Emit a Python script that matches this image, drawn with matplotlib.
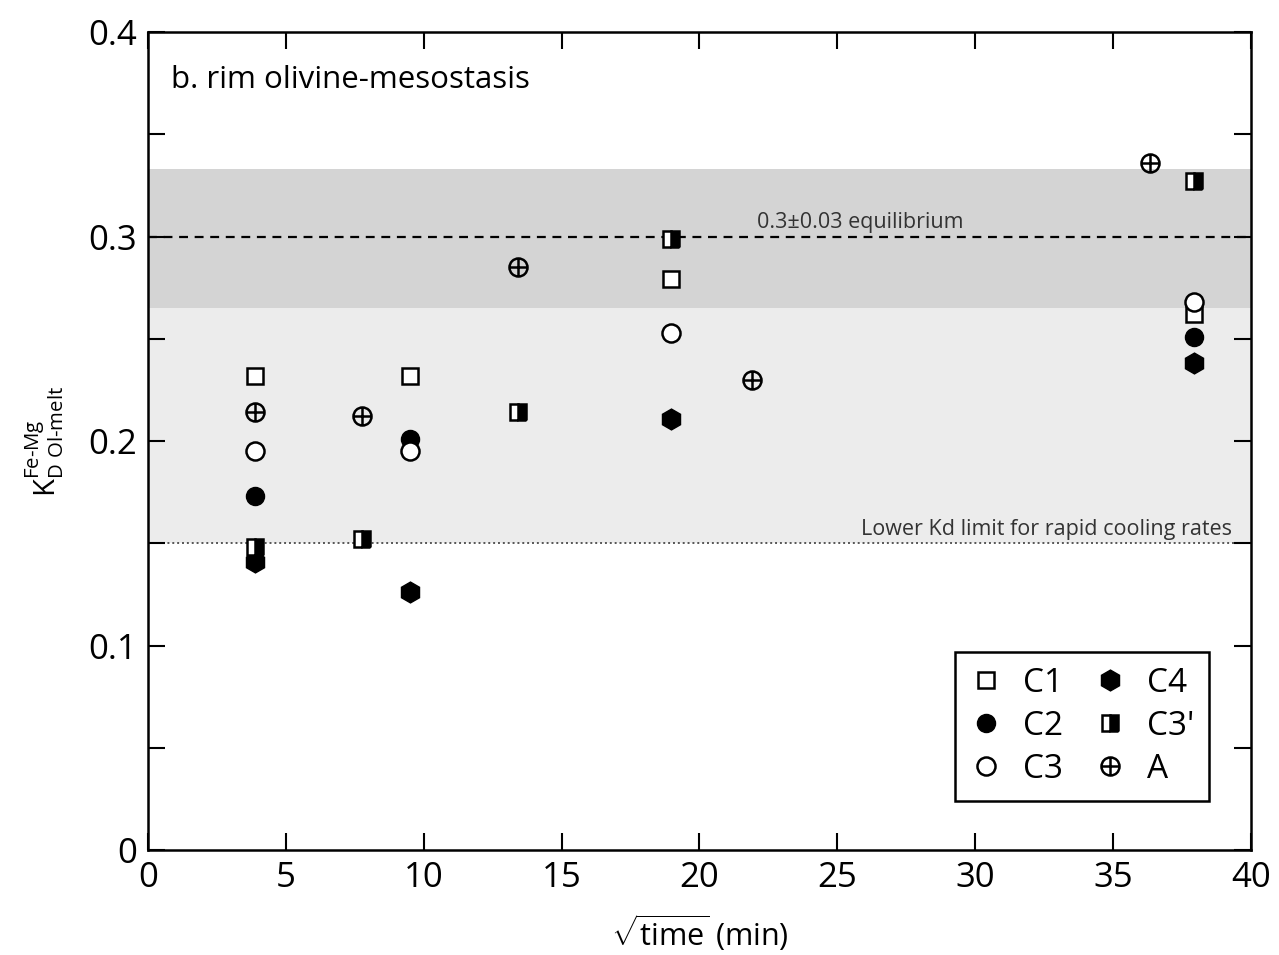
import matplotlib.pyplot as plt
import numpy as np
from matplotlib.path import Path
from matplotlib.ticker import MultipleLocator

plt.rcParams['font.family'] = ['Open Sans', 'DejaVu Sans']
plt.rcParams['mathtext.fontset'] = 'custom'
plt.rcParams['mathtext.rm'] = 'Open Sans'
plt.rcParams['mathtext.it'] = 'Open Sans'

# sqrt(time) values of the runs
x_c1 = [3.87, 9.49, 18.97, 37.95]
y_c1 = [0.232, 0.232, 0.279, 0.262]

x_c2 = [3.87, 9.49, 37.95]
y_c2 = [0.173, 0.201, 0.251]

x_c3 = [3.87, 9.49, 18.97, 37.95]
y_c3 = [0.195, 0.195, 0.253, 0.268]

x_c4 = [3.87, 9.49, 18.97, 37.95]
y_c4 = [0.141, 0.126, 0.211, 0.238]

x_c3p = [3.87, 7.75, 13.42, 18.97, 37.95]
y_c3p = [0.148, 0.152, 0.214, 0.299, 0.327]

x_a = [3.87, 7.75, 13.42, 21.9, 36.33]
y_a = [0.214, 0.212, 0.285, 0.230, 0.336]

# circle with a cross inside
circ = Path.unit_circle()
cross = Path([(-1, 0), (1, 0), (0, -1), (0, 1)],
             [Path.MOVETO, Path.LINETO, Path.MOVETO, Path.LINETO])
oplus = Path.make_compound_path(circ, cross)

fig = plt.figure(figsize=(12.79, 9.55), dpi=100)
ax = fig.add_axes([0.1157, 0.1099, 0.8623, 0.8566])

# shaded bands
ax.axhspan(0.15, 0.265, color='#ececec', lw=0, zorder=0)
ax.axhspan(0.265, 0.333, color='#d4d4d4', lw=0, zorder=0)
ax.axhline(0.3, color='black', ls=(0, (4, 3)), lw=1.6, zorder=1)
ax.axhline(0.15, color='#555555', ls=(0, (1, 1.5)), lw=1.4, zorder=1)

ax.text(22.1, 0.304, '0.3±0.03 equilibrium', fontsize=15.5, color='#333333')
ax.text(39.3, 0.154, 'Lower Kd limit for rapid cooling rates', fontsize=15.5,
        color='#333333', ha='right')
ax.text(0.85, 0.3765, 'b. rim olivine-mesostasis', fontsize=22.5, va='center')

ms = 13
ax.plot(x_c1, y_c1, 's', ms=11, mfc='white', mec='black', mew=1.8, ls='none', label='C1', zorder=3)
ax.plot(x_c2, y_c2, 'o', ms=ms, mfc='black', mec='black', ls='none', label='C2', zorder=3)
ax.plot(x_c3, y_c3, 'o', ms=ms, mfc='white', mec='black', mew=1.8, ls='none', label='C3', zorder=3)
ax.plot(x_c4, y_c4, 'h', ms=15, mfc='black', mec='black', ls='none', label='C4', zorder=3)
ax.plot(x_c3p, y_c3p, 's', ms=11, fillstyle='right', mfc='black', mfcalt='white',
        mec='black', mew=1.8, ls='none', label="C3'", zorder=3)
ax.plot(x_a, y_a, marker=oplus, ms=13, mfc='none', mec='black', mew=1.8, ls='none',
        label='A', zorder=3)

ax.set_xlim(0, 40)
ax.set_ylim(0, 0.4)
ax.xaxis.set_major_locator(MultipleLocator(5))
ax.yaxis.set_major_locator(MultipleLocator(0.1))
ax.yaxis.set_minor_locator(MultipleLocator(0.05))
ax.set_yticks([0, 0.1, 0.2, 0.3, 0.4])
ax.set_yticklabels(['0', '0.1', '0.2', '0.3', '0.4'])
ax.tick_params(which='both', direction='in', top=True, right=True, length=12,
               width=1.5, labelsize=25, pad=8)
for sp in ax.spines.values():
    sp.set_linewidth(1.8)

ax.set_xlabel(r'$\sqrt{\mathrm{time}}$ (min)', fontsize=22, labelpad=12)
ax.set_ylabel(r'K$_{\mathrm{D\ Ol\text{-}melt}}^{\mathrm{Fe\text{-}Mg}}$', fontsize=21, labelpad=16)

leg = ax.legend(ncol=2, loc='lower right', bbox_to_anchor=(0.962, 0.06), fontsize=24,
                frameon=True, fancybox=False, edgecolor='black', framealpha=1,
                handlelength=1.0, handletextpad=0.6, columnspacing=0.9,
                labelspacing=0.3, borderpad=0.45, borderaxespad=0)
leg.get_frame().set_linewidth(1.8)

fig.savefig('out.png', dpi=100)
